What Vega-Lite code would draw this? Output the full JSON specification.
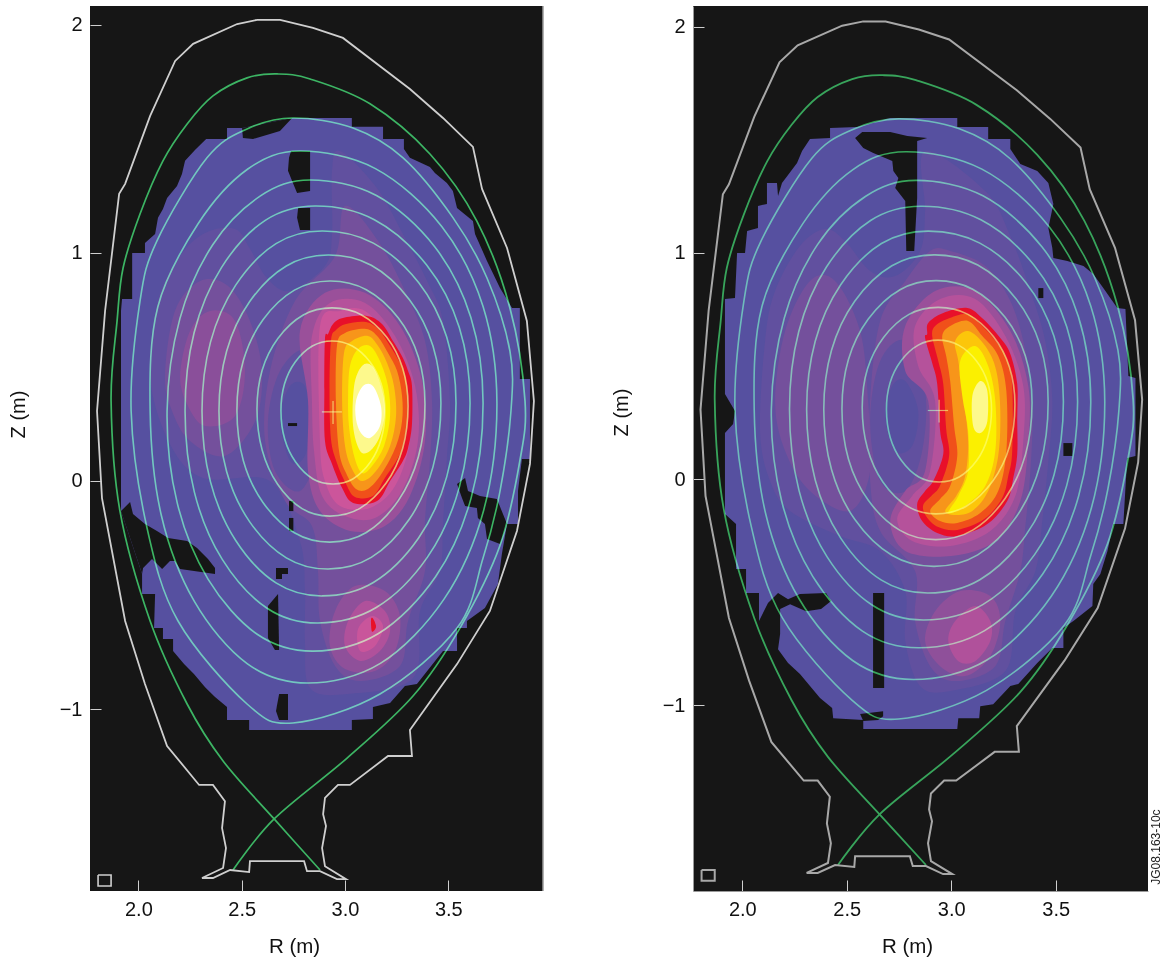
{"$schema":"https://vega.github.io/schema/vega-lite/v6.json","background":"white","padding":{"left":8,"top":5,"right":0,"bottom":0},"bounds":"flush","spacing":150,
"datasets":{
"edge":[{"R":3.958}],
"wall":[{"R":2.574,"Z":2.022},{"R":2.686,"Z":2.022},{"R":2.845,"Z":1.987},{"R":2.99,"Z":1.943},{"R":3.314,"Z":1.719},{"R":3.474,"Z":1.592},{"R":3.619,"Z":1.465},{"R":3.663,"Z":1.281},{"R":3.784,"Z":1.022},{"R":3.88,"Z":0.702},{"R":3.914,"Z":0.351},{"R":3.895,"Z":0.075},{"R":3.832,"Z":-0.219},{"R":3.701,"Z":-0.57},{"R":3.542,"Z":-0.803},{"R":3.314,"Z":-1.092},{"R":3.324,"Z":-1.206},{"R":3.208,"Z":-1.206},{"R":3.024,"Z":-1.333},{"R":2.966,"Z":-1.333},{"R":2.903,"Z":-1.39},{"R":2.894,"Z":-1.461},{"R":2.908,"Z":-1.513},{"R":2.889,"Z":-1.61},{"R":2.903,"Z":-1.689},{"R":3.005,"Z":-1.746},{"R":2.961,"Z":-1.746},{"R":2.879,"Z":-1.711},{"R":2.816,"Z":-1.711},{"R":2.802,"Z":-1.667},{"R":2.54,"Z":-1.667},{"R":2.536,"Z":-1.715},{"R":2.444,"Z":-1.706},{"R":2.361,"Z":-1.741},{"R":2.308,"Z":-1.741},{"R":2.41,"Z":-1.697},{"R":2.424,"Z":-1.61},{"R":2.405,"Z":-1.522},{"R":2.419,"Z":-1.404},{"R":2.361,"Z":-1.333},{"R":2.294,"Z":-1.333},{"R":2.139,"Z":-1.162},{"R":2.032,"Z":-0.89},{"R":1.936,"Z":-0.614},{"R":1.824,"Z":-0.075},{"R":1.8,"Z":0.307},{"R":1.839,"Z":0.746},{"R":1.907,"Z":1.259},{"R":1.936,"Z":1.303},{"R":2.057,"Z":1.601},{"R":2.178,"Z":1.842},{"R":2.265,"Z":1.917},{"R":2.478,"Z":2.004},{"R":2.574,"Z":2.022}],
"sep":[{"R":2.879,"Z":-1.706},{"R":2.657,"Z":-1.482},{"R":2.41,"Z":-1.228},{"R":2.236,"Z":-0.978},{"R":2.057,"Z":-0.614},{"R":1.911,"Z":-0.132},{"R":1.868,"Z":0.351},{"R":1.897,"Z":0.702},{"R":1.926,"Z":0.934},{"R":2.008,"Z":1.171},{"R":2.119,"Z":1.404},{"R":2.236,"Z":1.566},{"R":2.361,"Z":1.689},{"R":2.526,"Z":1.768},{"R":2.671,"Z":1.785},{"R":2.831,"Z":1.763},{"R":3.121,"Z":1.654},{"R":3.411,"Z":1.434},{"R":3.638,"Z":1.14},{"R":3.798,"Z":0.759},{"R":3.871,"Z":0.351},{"R":3.846,"Z":0.088},{"R":3.749,"Z":-0.285},{"R":3.556,"Z":-0.645},{"R":3.329,"Z":-0.943},{"R":3.01,"Z":-1.215},{"R":2.657,"Z":-1.482},{"R":2.458,"Z":-1.706}],
"flux":[
{"g":"c1","R":2.937,"Z":0.614},{"g":"c1","R":3.035,"Z":0.592},{"g":"c1","R":3.121,"Z":0.522},{"g":"c1","R":3.175,"Z":0.425},{"g":"c1","R":3.193,"Z":0.307},{"g":"c1","R":3.175,"Z":0.184},{"g":"c1","R":3.123,"Z":0.083},{"g":"c1","R":3.038,"Z":0.009},{"g":"c1","R":2.942,"Z":-0.013},{"g":"c1","R":2.845,"Z":0.009},{"g":"c1","R":2.761,"Z":0.083},{"g":"c1","R":2.708,"Z":0.184},{"g":"c1","R":2.69,"Z":0.307},{"g":"c1","R":2.707,"Z":0.425},{"g":"c1","R":2.759,"Z":0.522},{"g":"c1","R":2.842,"Z":0.592},
{"g":"c2","R":2.937,"Z":0.759},{"g":"c2","R":3.078,"Z":0.729},{"g":"c2","R":3.202,"Z":0.63},{"g":"c2","R":3.279,"Z":0.494},{"g":"c2","R":3.305,"Z":0.329},{"g":"c2","R":3.279,"Z":0.144},{"g":"c2","R":3.199,"Z":-0.009},{"g":"c2","R":3.072,"Z":-0.12},{"g":"c2","R":2.927,"Z":-0.154},{"g":"c2","R":2.792,"Z":-0.121},{"g":"c2","R":2.673,"Z":-0.013},{"g":"c2","R":2.599,"Z":0.136},{"g":"c2","R":2.574,"Z":0.316},{"g":"c2","R":2.599,"Z":0.486},{"g":"c2","R":2.676,"Z":0.626},{"g":"c2","R":2.798,"Z":0.728},
{"g":"c3","R":2.927,"Z":0.877},{"g":"c3","R":3.103,"Z":0.839},{"g":"c3","R":3.258,"Z":0.715},{"g":"c3","R":3.355,"Z":0.544},{"g":"c3","R":3.387,"Z":0.338},{"g":"c3","R":3.355,"Z":0.106},{"g":"c3","R":3.258,"Z":-0.086},{"g":"c3","R":3.103,"Z":-0.226},{"g":"c3","R":2.927,"Z":-0.268},{"g":"c3","R":2.755,"Z":-0.227},{"g":"c3","R":2.603,"Z":-0.094},{"g":"c3","R":2.508,"Z":0.089},{"g":"c3","R":2.477,"Z":0.311},{"g":"c3","R":2.508,"Z":0.528},{"g":"c3","R":2.603,"Z":0.707},{"g":"c3","R":2.755,"Z":0.837},
{"g":"c4","R":2.918,"Z":0.991},{"g":"c4","R":3.127,"Z":0.946},{"g":"c4","R":3.311,"Z":0.796},{"g":"c4","R":3.426,"Z":0.591},{"g":"c4","R":3.464,"Z":0.342},{"g":"c4","R":3.426,"Z":0.063},{"g":"c4","R":3.311,"Z":-0.168},{"g":"c4","R":3.127,"Z":-0.335},{"g":"c4","R":2.918,"Z":-0.386},{"g":"c4","R":2.716,"Z":-0.337},{"g":"c4","R":2.538,"Z":-0.178},{"g":"c4","R":2.427,"Z":0.042},{"g":"c4","R":2.39,"Z":0.307},{"g":"c4","R":2.427,"Z":0.569},{"g":"c4","R":2.538,"Z":0.786},{"g":"c4","R":2.716,"Z":0.943},
{"g":"c5","R":2.889,"Z":1.096},{"g":"c5","R":3.137,"Z":1.043},{"g":"c5","R":3.356,"Z":0.87},{"g":"c5","R":3.492,"Z":0.631},{"g":"c5","R":3.537,"Z":0.342},{"g":"c5","R":3.492,"Z":0.018},{"g":"c5","R":3.356,"Z":-0.25},{"g":"c5","R":3.137,"Z":-0.445},{"g":"c5","R":2.889,"Z":-0.504},{"g":"c5","R":2.666,"Z":-0.447},{"g":"c5","R":2.471,"Z":-0.261},{"g":"c5","R":2.349,"Z":-0.004},{"g":"c5","R":2.308,"Z":0.307},{"g":"c5","R":2.349,"Z":0.609},{"g":"c5","R":2.471,"Z":0.859},{"g":"c5","R":2.666,"Z":1.041},
{"g":"c6","R":2.855,"Z":1.206},{"g":"c6","R":3.142,"Z":1.146},{"g":"c6","R":3.395,"Z":0.947},{"g":"c6","R":3.553,"Z":0.673},{"g":"c6","R":3.605,"Z":0.342},{"g":"c6","R":3.553,"Z":-0.028},{"g":"c6","R":3.399,"Z":-0.334},{"g":"c6","R":3.151,"Z":-0.555},{"g":"c6","R":2.869,"Z":-0.623},{"g":"c6","R":2.623,"Z":-0.558},{"g":"c6","R":2.406,"Z":-0.344},{"g":"c6","R":2.271,"Z":-0.049},{"g":"c6","R":2.226,"Z":0.307},{"g":"c6","R":2.27,"Z":0.651},{"g":"c6","R":2.402,"Z":0.936},{"g":"c6","R":2.614,"Z":1.143},
{"g":"c7","R":2.831,"Z":1.32},{"g":"c7","R":3.152,"Z":1.252},{"g":"c7","R":3.434,"Z":1.027},{"g":"c7","R":3.609,"Z":0.717},{"g":"c7","R":3.668,"Z":0.342},{"g":"c7","R":3.61,"Z":-0.075},{"g":"c7","R":3.438,"Z":-0.42},{"g":"c7","R":3.16,"Z":-0.67},{"g":"c7","R":2.845,"Z":-0.746},{"g":"c7","R":2.575,"Z":-0.672},{"g":"c7","R":2.337,"Z":-0.43},{"g":"c7","R":2.188,"Z":-0.096},{"g":"c7","R":2.139,"Z":0.307},{"g":"c7","R":2.201,"Z":0.712},{"g":"c7","R":2.36,"Z":1.036},{"g":"c7","R":2.589,"Z":1.249},
{"g":"c8","R":2.782,"Z":1.447},{"g":"c8","R":3.147,"Z":1.37},{"g":"c8","R":3.468,"Z":1.116},{"g":"c8","R":3.668,"Z":0.765},{"g":"c8","R":3.735,"Z":0.342},{"g":"c8","R":3.671,"Z":-0.128},{"g":"c8","R":3.479,"Z":-0.518},{"g":"c8","R":3.171,"Z":-0.8},{"g":"c8","R":2.821,"Z":-0.886},{"g":"c8","R":2.528,"Z":-0.802},{"g":"c8","R":2.271,"Z":-0.528},{"g":"c8","R":2.111,"Z":-0.15},{"g":"c8","R":2.057,"Z":0.307},{"g":"c8","R":2.094,"Z":0.763},{"g":"c8","R":2.289,"Z":1.128},{"g":"c8","R":2.528,"Z":1.367},
{"g":"c9","R":2.748,"Z":1.592},{"g":"c9","R":3.039,"Z":1.548},{"g":"c9","R":3.281,"Z":1.417},{"g":"c9","R":3.523,"Z":1.154},{"g":"c9","R":3.687,"Z":0.89},{"g":"c9","R":3.798,"Z":0.57},{"g":"c9","R":3.803,"Z":0.307},{"g":"c9","R":3.75,"Z":-0.044},{"g":"c9","R":3.668,"Z":-0.338},{"g":"c9","R":3.542,"Z":-0.645},{"g":"c9","R":3.169,"Z":-0.934},{"g":"c9","R":2.748,"Z":-1.061},{"g":"c9","R":2.526,"Z":-0.978},{"g":"c9","R":2.192,"Z":-0.614},{"g":"c9","R":2.042,"Z":-0.206},{"g":"c9","R":1.965,"Z":0.307},{"g":"c9","R":2.008,"Z":0.789},{"g":"c9","R":2.09,"Z":1.053},{"g":"c9","R":2.332,"Z":1.417},{"g":"c9","R":2.526,"Z":1.544}],
"cross":[{"g":"h","R":2.888,"Z":0.303},{"g":"h","R":2.985,"Z":0.303},{"g":"v","R":2.942,"Z":0.351},{"g":"v","R":2.942,"Z":0.25}],
"square":[{"R":1.805,"Z":-1.728},{"R":1.868,"Z":-1.728},{"R":1.868,"Z":-1.776},{"R":1.805,"Z":-1.776},{"R":1.805,"Z":-1.728}],
"stamp":[{"R":3.982,"Z":-1.627,"t":"JG08.163-10c"}],
"baseL":[{"R":2.429,"Z":1.548},{"R":2.502,"Z":1.548},{"R":2.744,"Z":1.592},{"R":3.033,"Z":1.592},{"R":3.033,"Z":1.553},{"R":3.184,"Z":1.553},{"R":3.184,"Z":1.5},{"R":3.285,"Z":1.5},{"R":3.285,"Z":1.456},{"R":3.314,"Z":1.417},{"R":3.411,"Z":1.377},{"R":3.435,"Z":1.351},{"R":3.493,"Z":1.307},{"R":3.522,"Z":1.272},{"R":3.542,"Z":1.197},{"R":3.619,"Z":1.14},{"R":3.629,"Z":1.083},{"R":3.687,"Z":0.965},{"R":3.75,"Z":0.846},{"R":3.808,"Z":0.759},{"R":3.846,"Z":0.759},{"R":3.846,"Z":0.447},{"R":3.895,"Z":0.447},{"R":3.895,"Z":0.096},{"R":3.856,"Z":0.096},{"R":3.837,"Z":-0.044},{"R":3.837,"Z":-0.189},{"R":3.784,"Z":-0.189},{"R":3.759,"Z":-0.32},{"R":3.74,"Z":-0.452},{"R":3.677,"Z":-0.557},{"R":3.59,"Z":-0.614},{"R":3.59,"Z":-0.645},{"R":3.542,"Z":-0.645},{"R":3.542,"Z":-0.746},{"R":3.474,"Z":-0.746},{"R":3.348,"Z":-0.89},{"R":3.29,"Z":-0.899},{"R":3.218,"Z":-0.974},{"R":3.135,"Z":-0.991},{"R":3.135,"Z":-1.044},{"R":3.033,"Z":-1.048},{"R":3.033,"Z":-1.092},{"R":2.536,"Z":-1.092},{"R":2.536,"Z":-1.048},{"R":2.429,"Z":-1.048},{"R":2.429,"Z":-0.991},{"R":2.371,"Z":-0.947},{"R":2.323,"Z":-0.904},{"R":2.269,"Z":-0.846},{"R":2.221,"Z":-0.803},{"R":2.168,"Z":-0.746},{"R":2.168,"Z":-0.693},{"R":2.119,"Z":-0.693},{"R":2.119,"Z":-0.645},{"R":2.076,"Z":-0.645},{"R":2.081,"Z":-0.496},{"R":2.018,"Z":-0.496},{"R":2.018,"Z":-0.408},{"R":1.916,"Z":-0.132},{"R":1.916,"Z":0.746},{"R":1.921,"Z":0.798},{"R":1.97,"Z":0.798},{"R":1.97,"Z":1.0},{"R":2.032,"Z":1.0},{"R":2.032,"Z":1.044},{"R":2.081,"Z":1.083},{"R":2.095,"Z":1.154},{"R":2.119,"Z":1.193},{"R":2.139,"Z":1.241},{"R":2.187,"Z":1.294},{"R":2.211,"Z":1.346},{"R":2.226,"Z":1.404},{"R":2.274,"Z":1.452},{"R":2.328,"Z":1.5},{"R":2.429,"Z":1.5}],
"gapsL":[
{"g":"g1","R":2.502,"Z":1.548},{"g":"g1","R":2.506,"Z":1.504},{"g":"g1","R":2.555,"Z":1.5},{"g":"g1","R":2.637,"Z":1.522},{"g":"g1","R":2.685,"Z":1.535},{"g":"g1","R":2.744,"Z":1.592},
{"g":"g2","R":2.739,"Z":1.447},{"g":"g2","R":2.831,"Z":1.447},{"g":"g2","R":2.831,"Z":1.272},{"g":"g2","R":2.768,"Z":1.263},{"g":"g2","R":2.744,"Z":1.316},{"g":"g2","R":2.724,"Z":1.36},{"g":"g2","R":2.729,"Z":1.417},
{"g":"g3","R":2.773,"Z":1.197},{"g":"g3","R":2.831,"Z":1.197},{"g":"g3","R":2.831,"Z":1.101},{"g":"g3","R":2.782,"Z":1.101},{"g":"g3","R":2.768,"Z":1.154},
{"g":"g6","R":2.724,"Z":0.254},{"g":"g6","R":2.768,"Z":0.254},{"g":"g6","R":2.768,"Z":0.241},{"g":"g6","R":2.724,"Z":0.241},
{"g":"g7","R":1.916,"Z":-0.132},{"g":"g7","R":1.96,"Z":-0.092},{"g":"g7","R":1.974,"Z":-0.145},{"g":"g7","R":2.032,"Z":-0.189},{"g":"g7","R":2.09,"Z":-0.219},{"g":"g7","R":2.144,"Z":-0.25},{"g":"g7","R":2.236,"Z":-0.263},{"g":"g7","R":2.284,"Z":-0.294},{"g":"g7","R":2.337,"Z":-0.342},{"g":"g7","R":2.371,"Z":-0.382},{"g":"g7","R":2.371,"Z":-0.408},{"g":"g7","R":2.202,"Z":-0.386},{"g":"g7","R":2.177,"Z":-0.351},{"g":"g7","R":2.153,"Z":-0.351},{"g":"g7","R":2.115,"Z":-0.386},{"g":"g7","R":2.066,"Z":-0.342},{"g":"g7","R":2.023,"Z":-0.382},{"g":"g7","R":2.018,"Z":-0.408},
{"g":"g8a","R":2.729,"Z":-0.088},{"g":"g8a","R":2.75,"Z":-0.088},{"g":"g8a","R":2.75,"Z":-0.132},{"g":"g8a","R":2.729,"Z":-0.132},
{"g":"g8b","R":2.729,"Z":-0.162},{"g":"g8b","R":2.75,"Z":-0.162},{"g":"g8b","R":2.75,"Z":-0.219},{"g":"g8b","R":2.729,"Z":-0.219},
{"g":"g9","R":2.666,"Z":-0.382},{"g":"g9","R":2.724,"Z":-0.382},{"g":"g9","R":2.724,"Z":-0.408},{"g":"g9","R":2.695,"Z":-0.408},{"g":"g9","R":2.695,"Z":-0.43},{"g":"g9","R":2.666,"Z":-0.43},
{"g":"g10","R":2.676,"Z":-0.496},{"g":"g10","R":2.681,"Z":-0.741},{"g":"g10","R":2.661,"Z":-0.741},{"g":"g10","R":2.627,"Z":-0.689},{"g":"g10","R":2.627,"Z":-0.548},
{"g":"g11","R":2.681,"Z":-0.934},{"g":"g11","R":2.724,"Z":-0.934},{"g":"g11","R":2.724,"Z":-1.048},{"g":"g11","R":2.681,"Z":-1.048},{"g":"g11","R":2.666,"Z":-1.009},
{"g":"g12","R":3.542,"Z":-0.013},{"g":"g12","R":3.581,"Z":0.013},{"g":"g12","R":3.595,"Z":-0.044},{"g":"g12","R":3.653,"Z":-0.066},{"g":"g12","R":3.735,"Z":-0.079},{"g":"g12","R":3.784,"Z":-0.189},{"g":"g12","R":3.75,"Z":-0.276},{"g":"g12","R":3.687,"Z":-0.254},{"g":"g12","R":3.677,"Z":-0.189},{"g":"g12","R":3.643,"Z":-0.162},{"g":"g12","R":3.638,"Z":-0.118},{"g":"g12","R":3.581,"Z":-0.11},{"g":"g12","R":3.566,"Z":-0.075}],
"heatL":[
{"g":"A","R":2.976,"Z":1.447},{"g":"A","R":3.154,"Z":1.285},{"g":"A","R":3.28,"Z":1.083},{"g":"A","R":3.397,"Z":0.877},{"g":"A","R":3.474,"Z":0.702},{"g":"A","R":3.508,"Z":0.351},{"g":"A","R":3.493,"Z":0.101},{"g":"A","R":3.474,"Z":-0.189},{"g":"A","R":3.459,"Z":-0.395},{"g":"A","R":3.363,"Z":-0.57},{"g":"A","R":3.329,"Z":-0.864},{"g":"A","R":3.01,"Z":-0.934},{"g":"A","R":2.831,"Z":-0.908},{"g":"A","R":2.806,"Z":-0.702},{"g":"A","R":2.806,"Z":-0.482},{"g":"A","R":2.782,"Z":-0.263},{"g":"A","R":2.637,"Z":0},{"g":"A","R":2.313,"Z":0.013},{"g":"A","R":2.153,"Z":0.162},{"g":"A","R":2.057,"Z":0.452},{"g":"A","R":2.095,"Z":0.789},{"g":"A","R":2.202,"Z":0.987},{"g":"A","R":2.323,"Z":1.088},{"g":"A","R":2.468,"Z":1.105},{"g":"A","R":2.54,"Z":1.018},{"g":"A","R":2.622,"Z":0.89},{"g":"A","R":2.734,"Z":0.833},{"g":"A","R":2.903,"Z":0.943},{"g":"A","R":2.937,"Z":1.083},{"g":"A","R":2.937,"Z":1.36},
{"g":"B1","R":2.129,"Z":0.461},{"g":"B1","R":2.177,"Z":0.746},{"g":"B1","R":2.299,"Z":0.877},{"g":"B1","R":2.434,"Z":0.855},{"g":"B1","R":2.54,"Z":0.702},{"g":"B1","R":2.598,"Z":0.482},{"g":"B1","R":2.565,"Z":0.263},{"g":"B1","R":2.419,"Z":0.11},{"g":"B1","R":2.25,"Z":0.175},{"g":"B1","R":2.163,"Z":0.307},
{"g":"B2","R":3.0,"Z":1.206},{"g":"B2","R":3.16,"Z":1.053},{"g":"B2","R":3.29,"Z":0.833},{"g":"B2","R":3.387,"Z":0.614},{"g":"B2","R":3.421,"Z":0.351},{"g":"B2","R":3.411,"Z":0.088},{"g":"B2","R":3.387,"Z":-0.175},{"g":"B2","R":3.387,"Z":-0.395},{"g":"B2","R":3.305,"Z":-0.614},{"g":"B2","R":3.266,"Z":-0.811},{"g":"B2","R":3.073,"Z":-0.877},{"g":"B2","R":2.952,"Z":-0.811},{"g":"B2","R":2.879,"Z":-0.614},{"g":"B2","R":2.869,"Z":-0.395},{"g":"B2","R":2.84,"Z":-0.197},{"g":"B2","R":2.71,"Z":-0.088},{"g":"B2","R":2.613,"Z":0.175},{"g":"B2","R":2.637,"Z":0.482},{"g":"B2","R":2.758,"Z":0.789},{"g":"B2","R":2.952,"Z":0.987},
{"g":"C","R":2.202,"Z":0.461},{"g":"C","R":2.25,"Z":0.658},{"g":"C","R":2.347,"Z":0.746},{"g":"C","R":2.468,"Z":0.702},{"g":"C","R":2.516,"Z":0.482},{"g":"C","R":2.468,"Z":0.285},{"g":"C","R":2.323,"Z":0.241},{"g":"C","R":2.24,"Z":0.329},
{"g":"DS1","R":2.627,"Z":0.263},{"g":"DS1","R":2.685,"Z":0.482},{"g":"DS1","R":2.806,"Z":0.57},{"g":"DS1","R":2.869,"Z":0.351},{"g":"DS1","R":2.869,"Z":0.132},{"g":"DS1","R":2.782,"Z":-0.044},{"g":"DS1","R":2.661,"Z":0.044},
{"g":"DS2","R":2.685,"Z":0.272},{"g":"DS2","R":2.734,"Z":0.417},{"g":"DS2","R":2.806,"Z":0.417},{"g":"DS2","R":2.831,"Z":0.263},{"g":"DS2","R":2.806,"Z":0.11},{"g":"DS2","R":2.734,"Z":0.088},
{"g":"H2","R":2.782,"Z":0.658},{"g":"H2","R":2.903,"Z":0.825},{"g":"H2","R":3.097,"Z":0.825},{"g":"H2","R":3.266,"Z":0.68},{"g":"H2","R":3.373,"Z":0.439},{"g":"H2","R":3.387,"Z":0.175},{"g":"H2","R":3.314,"Z":-0.066},{"g":"H2","R":3.193,"Z":-0.197},{"g":"H2","R":3.024,"Z":-0.219},{"g":"H2","R":2.879,"Z":-0.132},{"g":"H2","R":2.821,"Z":0.044},{"g":"H2","R":2.821,"Z":0.351},
{"g":"H3","R":2.84,"Z":0.636},{"g":"H3","R":2.927,"Z":0.781},{"g":"H3","R":3.097,"Z":0.781},{"g":"H3","R":3.242,"Z":0.636},{"g":"H3","R":3.339,"Z":0.417},{"g":"H3","R":3.353,"Z":0.175},{"g":"H3","R":3.276,"Z":-0.044},{"g":"H3","R":3.145,"Z":-0.162},{"g":"H3","R":3.0,"Z":-0.154},{"g":"H3","R":2.889,"Z":-0.066},{"g":"H3","R":2.85,"Z":0.132},{"g":"H3","R":2.84,"Z":0.351},
{"g":"H4","R":2.879,"Z":0.68},{"g":"H4","R":2.976,"Z":0.746},{"g":"H4","R":3.097,"Z":0.746},{"g":"H4","R":3.218,"Z":0.614},{"g":"H4","R":3.305,"Z":0.395},{"g":"H4","R":3.314,"Z":0.175},{"g":"H4","R":3.242,"Z":-0.022},{"g":"H4","R":3.121,"Z":-0.118},{"g":"H4","R":2.976,"Z":-0.11},{"g":"H4","R":2.903,"Z":0},{"g":"H4","R":2.879,"Z":0.175},
{"g":"LB1","R":2.952,"Z":-0.57},{"g":"LB1","R":3.048,"Z":-0.461},{"g":"LB1","R":3.193,"Z":-0.482},{"g":"LB1","R":3.266,"Z":-0.592},{"g":"LB1","R":3.242,"Z":-0.746},{"g":"LB1","R":3.145,"Z":-0.833},{"g":"LB1","R":3.0,"Z":-0.825},{"g":"LB1","R":2.927,"Z":-0.724},
{"g":"LB2","R":3.015,"Z":-0.614},{"g":"LB2","R":3.097,"Z":-0.526},{"g":"LB2","R":3.193,"Z":-0.57},{"g":"LB2","R":3.218,"Z":-0.658},{"g":"LB2","R":3.169,"Z":-0.746},{"g":"LB2","R":3.073,"Z":-0.789},{"g":"LB2","R":3.0,"Z":-0.724},
{"g":"LB3","R":3.063,"Z":-0.649},{"g":"LB3","R":3.131,"Z":-0.592},{"g":"LB3","R":3.184,"Z":-0.636},{"g":"LB3","R":3.145,"Z":-0.724},{"g":"LB3","R":3.073,"Z":-0.746},
{"g":"Spot","R":3.126,"Z":-0.605},{"g":"Spot","R":3.137,"Z":-0.605},{"g":"Spot","R":3.15,"Z":-0.64},{"g":"Spot","R":3.13,"Z":-0.66},
{"g":"Red","R":2.903,"Z":0.623},{"g":"Red","R":2.918,"Z":0.645},{"g":"Red","R":2.942,"Z":0.689},{"g":"Red","R":2.99,"Z":0.715},{"g":"Red","R":3.106,"Z":0.724},{"g":"Red","R":3.179,"Z":0.689},{"g":"Red","R":3.232,"Z":0.614},{"g":"Red","R":3.28,"Z":0.539},{"g":"Red","R":3.305,"Z":0.482},{"g":"Red","R":3.324,"Z":0.417},{"g":"Red","R":3.324,"Z":0.25},{"g":"Red","R":3.305,"Z":0.145},{"g":"Red","R":3.28,"Z":0.088},{"g":"Red","R":3.218,"Z":0},{"g":"Red","R":3.155,"Z":-0.088},{"g":"Red","R":3.039,"Z":-0.096},{"g":"Red","R":2.986,"Z":-0.031},{"g":"Red","R":2.937,"Z":0.075},{"g":"Red","R":2.903,"Z":0.175},{"g":"Red","R":2.9,"Z":0.4},
{"g":"O1","R":2.932,"Z":0.614},{"g":"O1","R":2.956,"Z":0.662},{"g":"O1","R":3.005,"Z":0.689},{"g":"O1","R":3.102,"Z":0.697},{"g":"O1","R":3.165,"Z":0.662},{"g":"O1","R":3.218,"Z":0.592},{"g":"O1","R":3.266,"Z":0.518},{"g":"O1","R":3.29,"Z":0.461},{"g":"O1","R":3.3,"Z":0.395},{"g":"O1","R":3.3,"Z":0.263},{"g":"O1","R":3.28,"Z":0.162},{"g":"O1","R":3.256,"Z":0.101},{"g":"O1","R":3.193,"Z":0.013},{"g":"O1","R":3.135,"Z":-0.066},{"g":"O1","R":3.048,"Z":-0.07},{"g":"O1","R":3.005,"Z":-0.013},{"g":"O1","R":2.961,"Z":0.079},{"g":"O1","R":2.932,"Z":0.184},{"g":"O1","R":2.925,"Z":0.4},
{"g":"O2","R":2.961,"Z":0.592},{"g":"O2","R":3.0,"Z":0.649},{"g":"O2","R":3.102,"Z":0.667},{"g":"O2","R":3.16,"Z":0.632},{"g":"O2","R":3.208,"Z":0.561},{"g":"O2","R":3.252,"Z":0.482},{"g":"O2","R":3.276,"Z":0.373},{"g":"O2","R":3.276,"Z":0.263},{"g":"O2","R":3.247,"Z":0.154},{"g":"O2","R":3.179,"Z":0.035},{"g":"O2","R":3.111,"Z":-0.035},{"g":"O2","R":3.053,"Z":-0.035},{"g":"O2","R":3.005,"Z":0.035},{"g":"O2","R":2.971,"Z":0.132},{"g":"O2","R":2.956,"Z":0.351},
{"g":"O3","R":2.995,"Z":0.561},{"g":"O3","R":3.034,"Z":0.614},{"g":"O3","R":3.111,"Z":0.636},{"g":"O3","R":3.16,"Z":0.592},{"g":"O3","R":3.203,"Z":0.518},{"g":"O3","R":3.237,"Z":0.417},{"g":"O3","R":3.247,"Z":0.285},{"g":"O3","R":3.218,"Z":0.154},{"g":"O3","R":3.15,"Z":0.044},{"g":"O3","R":3.082,"Z":0},{"g":"O3","R":3.034,"Z":0.053},{"g":"O3","R":3.0,"Z":0.154},{"g":"O3","R":2.986,"Z":0.351},
{"g":"Y","R":3.024,"Z":0.504},{"g":"Y","R":3.063,"Z":0.579},{"g":"Y","R":3.121,"Z":0.592},{"g":"Y","R":3.169,"Z":0.526},{"g":"Y","R":3.208,"Z":0.417},{"g":"Y","R":3.218,"Z":0.285},{"g":"Y","R":3.189,"Z":0.154},{"g":"Y","R":3.131,"Z":0.066},{"g":"Y","R":3.082,"Z":0.035},{"g":"Y","R":3.044,"Z":0.11},{"g":"Y","R":3.019,"Z":0.241},{"g":"Y","R":3.015,"Z":0.373},
{"g":"P","R":3.044,"Z":0.417},{"g":"P","R":3.082,"Z":0.504},{"g":"P","R":3.131,"Z":0.504},{"g":"P","R":3.174,"Z":0.417},{"g":"P","R":3.193,"Z":0.307},{"g":"P","R":3.169,"Z":0.197},{"g":"P","R":3.121,"Z":0.132},{"g":"P","R":3.073,"Z":0.132},{"g":"P","R":3.039,"Z":0.241},
{"g":"W","R":3.053,"Z":0.351},{"g":"W","R":3.087,"Z":0.417},{"g":"W","R":3.135,"Z":0.417},{"g":"W","R":3.174,"Z":0.329},{"g":"W","R":3.169,"Z":0.241},{"g":"W","R":3.121,"Z":0.189},{"g":"W","R":3.077,"Z":0.211},{"g":"W","R":3.053,"Z":0.272}],
"baseR":[{"R":2.42,"Z":1.552},{"R":2.55,"Z":1.556},{"R":2.708,"Z":1.596},{"R":3.029,"Z":1.596},{"R":3.029,"Z":1.556},{"R":3.177,"Z":1.556},{"R":3.177,"Z":1.503},{"R":3.283,"Z":1.503},{"R":3.283,"Z":1.459},{"R":3.331,"Z":1.393},{"R":3.412,"Z":1.362},{"R":3.465,"Z":1.309},{"R":3.489,"Z":1.216},{"R":3.465,"Z":1.11},{"R":3.484,"Z":1.021},{"R":3.489,"Z":0.977},{"R":3.556,"Z":0.964},{"R":3.633,"Z":0.942},{"R":3.68,"Z":0.906},{"R":3.728,"Z":0.844},{"R":3.795,"Z":0.756},{"R":3.834,"Z":0.752},{"R":3.848,"Z":0.455},{"R":3.882,"Z":0.447},{"R":3.882,"Z":0.102},{"R":3.843,"Z":0.093},{"R":3.834,"Z":-0.04},{"R":3.824,"Z":-0.199},{"R":3.776,"Z":-0.199},{"R":3.748,"Z":-0.318},{"R":3.714,"Z":-0.42},{"R":3.68,"Z":-0.464},{"R":3.676,"Z":-0.561},{"R":3.585,"Z":-0.628},{"R":3.537,"Z":-0.659},{"R":3.537,"Z":-0.747},{"R":3.484,"Z":-0.747},{"R":3.412,"Z":-0.813},{"R":3.321,"Z":-0.906},{"R":3.283,"Z":-0.915},{"R":3.201,"Z":-0.995},{"R":3.139,"Z":-1.004},{"R":3.134,"Z":-1.057},{"R":3.034,"Z":-1.057},{"R":3.029,"Z":-1.105},{"R":2.579,"Z":-1.105},{"R":2.579,"Z":-1.065},{"R":2.435,"Z":-1.057},{"R":2.43,"Z":-1.012},{"R":2.372,"Z":-0.968},{"R":2.324,"Z":-0.915},{"R":2.276,"Z":-0.862},{"R":2.219,"Z":-0.813},{"R":2.171,"Z":-0.752},{"R":2.181,"Z":-0.685},{"R":2.181,"Z":-0.575},{"R":2.229,"Z":-0.553},{"R":2.305,"Z":-0.584},{"R":2.377,"Z":-0.575},{"R":2.425,"Z":-0.539},{"R":2.401,"Z":-0.504},{"R":2.276,"Z":-0.508},{"R":2.219,"Z":-0.531},{"R":2.171,"Z":-0.504},{"R":2.123,"Z":-0.548},{"R":2.08,"Z":-0.628},{"R":2.08,"Z":-0.504},{"R":2.018,"Z":-0.504},{"R":2.018,"Z":-0.398},{"R":1.97,"Z":-0.398},{"R":1.97,"Z":-0.199},{"R":1.917,"Z":-0.155},{"R":1.917,"Z":0.203},{"R":1.956,"Z":0.243},{"R":1.965,"Z":0.301},{"R":1.917,"Z":0.376},{"R":1.917,"Z":0.796},{"R":1.965,"Z":0.8},{"R":1.975,"Z":0.999},{"R":2.013,"Z":0.999},{"R":2.023,"Z":1.096},{"R":2.075,"Z":1.11},{"R":2.075,"Z":1.207},{"R":2.118,"Z":1.216},{"R":2.118,"Z":1.309},{"R":2.166,"Z":1.309},{"R":2.171,"Z":1.251},{"R":2.19,"Z":1.309},{"R":2.262,"Z":1.397},{"R":2.286,"Z":1.45},{"R":2.324,"Z":1.503},{"R":2.42,"Z":1.508}],
"gapsR":[
{"g":"G1","R":2.54,"Z":1.508},{"g":"G1","R":2.574,"Z":1.534},{"g":"G1","R":2.708,"Z":1.534},{"g":"G1","R":2.79,"Z":1.516},{"g":"G1","R":2.885,"Z":1.508},{"g":"G1","R":2.837,"Z":1.494},{"g":"G1","R":2.837,"Z":1.242},{"g":"G1","R":2.823,"Z":1.008},{"g":"G1","R":2.785,"Z":1.008},{"g":"G1","R":2.78,"Z":1.229},{"g":"G1","R":2.732,"Z":1.287},{"g":"G1","R":2.747,"Z":1.331},{"g":"G1","R":2.723,"Z":1.362},{"g":"G1","R":2.718,"Z":1.406},{"g":"G1","R":2.627,"Z":1.441},{"g":"G1","R":2.579,"Z":1.463},
{"g":"G2","R":3.537,"Z":0.159},{"g":"G2","R":3.58,"Z":0.159},{"g":"G2","R":3.58,"Z":0.102},{"g":"G2","R":3.537,"Z":0.102},
{"g":"G3","R":3.417,"Z":0.844},{"g":"G3","R":3.441,"Z":0.844},{"g":"G3","R":3.441,"Z":0.8},{"g":"G3","R":3.417,"Z":0.8},
{"g":"G4","R":2.626,"Z":-0.504},{"g":"G4","R":2.679,"Z":-0.504},{"g":"G4","R":2.679,"Z":-0.924},{"g":"G4","R":2.626,"Z":-0.924},
{"g":"G5","R":2.564,"Z":-1.039},{"g":"G5","R":2.674,"Z":-1.026},{"g":"G5","R":2.674,"Z":-1.048},{"g":"G5","R":2.65,"Z":-1.065},{"g":"G5","R":2.579,"Z":-1.07}],
"heatR":[
{"g":"A","R":2.875,"Z":1.45},{"g":"A","R":3.163,"Z":1.273},{"g":"A","R":3.283,"Z":1.074},{"g":"A","R":3.379,"Z":0.831},{"g":"A","R":3.45,"Z":0.61},{"g":"A","R":3.484,"Z":0.345},{"g":"A","R":3.465,"Z":0.08},{"g":"A","R":3.436,"Z":-0.186},{"g":"A","R":3.403,"Z":-0.407},{"g":"A","R":3.307,"Z":-0.584},{"g":"A","R":3.259,"Z":-0.849},{"g":"A","R":2.995,"Z":-0.937},{"g":"A","R":2.851,"Z":-0.915},{"g":"A","R":2.78,"Z":-0.716},{"g":"A","R":2.78,"Z":-0.495},{"g":"A","R":2.66,"Z":-0.318},{"g":"A","R":2.468,"Z":-0.252},{"g":"A","R":2.228,"Z":-0.141},{"g":"A","R":2.133,"Z":-0.009},{"g":"A","R":2.085,"Z":0.212},{"g":"A","R":2.109,"Z":0.61},{"g":"A","R":2.157,"Z":0.831},{"g":"A","R":2.276,"Z":1.03},{"g":"A","R":2.396,"Z":1.105},{"g":"A","R":2.492,"Z":1.052},{"g":"A","R":2.612,"Z":0.92},{"g":"A","R":2.732,"Z":0.897},{"g":"A","R":2.851,"Z":1.008},{"g":"A","R":2.875,"Z":1.185},
{"g":"B1","R":2.157,"Z":0.345},{"g":"B1","R":2.205,"Z":0.654},{"g":"B1","R":2.324,"Z":0.875},{"g":"B1","R":2.444,"Z":0.875},{"g":"B1","R":2.564,"Z":0.654},{"g":"B1","R":2.602,"Z":0.345},{"g":"B1","R":2.612,"Z":0.035},{"g":"B1","R":2.516,"Z":-0.141},{"g":"B1","R":2.324,"Z":-0.053},{"g":"B1","R":2.205,"Z":0.124},
{"g":"B2","R":2.995,"Z":1.008},{"g":"B2","R":3.163,"Z":0.942},{"g":"B2","R":3.283,"Z":0.787},{"g":"B2","R":3.355,"Z":0.566},{"g":"B2","R":3.388,"Z":0.301},{"g":"B2","R":3.379,"Z":0.035},{"g":"B2","R":3.355,"Z":-0.208},{"g":"B2","R":3.331,"Z":-0.407},{"g":"B2","R":3.259,"Z":-0.628},{"g":"B2","R":3.211,"Z":-0.827},{"g":"B2","R":3.019,"Z":-0.893},{"g":"B2","R":2.899,"Z":-0.827},{"g":"B2","R":2.827,"Z":-0.628},{"g":"B2","R":2.827,"Z":-0.407},{"g":"B2","R":2.66,"Z":-0.23},{"g":"B2","R":2.612,"Z":-0.009},{"g":"B2","R":2.612,"Z":0.345},{"g":"B2","R":2.66,"Z":0.699},{"g":"B2","R":2.78,"Z":0.875},{"g":"B2","R":2.899,"Z":1.008},
{"g":"DS1","R":2.612,"Z":0.256},{"g":"DS1","R":2.66,"Z":0.522},{"g":"DS1","R":2.78,"Z":0.61},{"g":"DS1","R":2.875,"Z":0.389},{"g":"DS1","R":2.861,"Z":0.124},{"g":"DS1","R":2.78,"Z":-0.053},{"g":"DS1","R":2.66,"Z":-0.009},
{"g":"DS2","R":2.684,"Z":0.279},{"g":"DS2","R":2.717,"Z":0.411},{"g":"DS2","R":2.78,"Z":0.433},{"g":"DS2","R":2.842,"Z":0.301},{"g":"DS2","R":2.813,"Z":0.146},{"g":"DS2","R":2.732,"Z":0.124},
{"g":"H2","R":2.78,"Z":0.676},{"g":"H2","R":2.923,"Z":0.831},{"g":"H2","R":3.115,"Z":0.831},{"g":"H2","R":3.283,"Z":0.654},{"g":"H2","R":3.369,"Z":0.411},{"g":"H2","R":3.369,"Z":0.168},{"g":"H2","R":3.331,"Z":-0.097},{"g":"H2","R":3.211,"Z":-0.274},{"g":"H2","R":3.0,"Z":-0.34},{"g":"H2","R":2.78,"Z":-0.318},{"g":"H2","R":2.708,"Z":-0.186},{"g":"H2","R":2.78,"Z":-0.053},{"g":"H2","R":2.875,"Z":0.035},{"g":"H2","R":2.89,"Z":0.345},{"g":"H2","R":2.78,"Z":0.478},
{"g":"H3","R":2.827,"Z":0.676},{"g":"H3","R":2.947,"Z":0.796},{"g":"H3","R":3.115,"Z":0.796},{"g":"H3","R":3.259,"Z":0.632},{"g":"H3","R":3.345,"Z":0.411},{"g":"H3","R":3.345,"Z":0.168},{"g":"H3","R":3.307,"Z":-0.075},{"g":"H3","R":3.187,"Z":-0.23},{"g":"H3","R":2.995,"Z":-0.296},{"g":"H3","R":2.813,"Z":-0.274},{"g":"H3","R":2.741,"Z":-0.177},{"g":"H3","R":2.813,"Z":-0.075},{"g":"H3","R":2.899,"Z":0.035},{"g":"H3","R":2.923,"Z":0.345},{"g":"H3","R":2.842,"Z":0.5},
{"g":"LB1","R":2.923,"Z":-0.584},{"g":"LB1","R":3.043,"Z":-0.495},{"g":"LB1","R":3.187,"Z":-0.517},{"g":"LB1","R":3.235,"Z":-0.628},{"g":"LB1","R":3.187,"Z":-0.783},{"g":"LB1","R":3.067,"Z":-0.871},{"g":"LB1","R":2.947,"Z":-0.827},{"g":"LB1","R":2.875,"Z":-0.716},
{"g":"LB2","R":3.019,"Z":-0.628},{"g":"LB2","R":3.115,"Z":-0.561},{"g":"LB2","R":3.187,"Z":-0.628},{"g":"LB2","R":3.187,"Z":-0.716},{"g":"LB2","R":3.115,"Z":-0.805},{"g":"LB2","R":3.034,"Z":-0.805},{"g":"LB2","R":2.986,"Z":-0.716},
{"g":"Red","R":2.885,"Z":0.641},{"g":"Red","R":2.89,"Z":0.69},{"g":"Red","R":2.962,"Z":0.734},{"g":"Red","R":3.077,"Z":0.756},{"g":"Red","R":3.153,"Z":0.707},{"g":"Red","R":3.235,"Z":0.623},{"g":"Red","R":3.283,"Z":0.553},{"g":"Red","R":3.316,"Z":0.42},{"g":"Red","R":3.316,"Z":0.27},{"g":"Red","R":3.316,"Z":0.111},{"g":"Red","R":3.297,"Z":0.004},{"g":"Red","R":3.268,"Z":-0.097},{"g":"Red","R":3.173,"Z":-0.199},{"g":"Red","R":3.029,"Z":-0.252},{"g":"Red","R":2.933,"Z":-0.239},{"g":"Red","R":2.861,"Z":-0.186},{"g":"Red","R":2.837,"Z":-0.111},{"g":"Red","R":2.875,"Z":-0.053},{"g":"Red","R":2.914,"Z":-0.009},{"g":"Red","R":2.962,"Z":0.111},{"g":"Red","R":2.947,"Z":0.212},{"g":"Red","R":2.933,"Z":0.42},{"g":"Red","R":2.909,"Z":0.513},{"g":"Red","R":2.875,"Z":0.623},
{"g":"O1","R":2.909,"Z":0.632},{"g":"O1","R":2.923,"Z":0.676},{"g":"O1","R":2.981,"Z":0.707},{"g":"O1","R":3.077,"Z":0.73},{"g":"O1","R":3.139,"Z":0.685},{"g":"O1","R":3.216,"Z":0.606},{"g":"O1","R":3.264,"Z":0.535},{"g":"O1","R":3.292,"Z":0.411},{"g":"O1","R":3.292,"Z":0.124},{"g":"O1","R":3.273,"Z":0.013},{"g":"O1","R":3.244,"Z":-0.084},{"g":"O1","R":3.158,"Z":-0.177},{"g":"O1","R":3.029,"Z":-0.225},{"g":"O1","R":2.938,"Z":-0.212},{"g":"O1","R":2.88,"Z":-0.164},{"g":"O1","R":2.866,"Z":-0.115},{"g":"O1","R":2.909,"Z":-0.071},{"g":"O1","R":2.947,"Z":-0.027},{"g":"O1","R":2.99,"Z":0.102},{"g":"O1","R":2.976,"Z":0.221},{"g":"O1","R":2.962,"Z":0.42},{"g":"O1","R":2.938,"Z":0.522},
{"g":"O2","R":2.957,"Z":0.632},{"g":"O2","R":2.995,"Z":0.676},{"g":"O2","R":3.081,"Z":0.699},{"g":"O2","R":3.149,"Z":0.632},{"g":"O2","R":3.225,"Z":0.544},{"g":"O2","R":3.264,"Z":0.389},{"g":"O2","R":3.264,"Z":0.124},{"g":"O2","R":3.225,"Z":-0.053},{"g":"O2","R":3.139,"Z":-0.15},{"g":"O2","R":3.029,"Z":-0.194},{"g":"O2","R":2.947,"Z":-0.186},{"g":"O2","R":2.899,"Z":-0.141},{"g":"O2","R":2.947,"Z":-0.088},{"g":"O2","R":2.995,"Z":-0.031},{"g":"O2","R":3.029,"Z":0.102},{"g":"O2","R":3.014,"Z":0.234},{"g":"O2","R":2.995,"Z":0.433},{"g":"O2","R":2.976,"Z":0.544},
{"g":"O3","R":3.019,"Z":0.61},{"g":"O3","R":3.081,"Z":0.654},{"g":"O3","R":3.163,"Z":0.588},{"g":"O3","R":3.216,"Z":0.478},{"g":"O3","R":3.235,"Z":0.301},{"g":"O3","R":3.225,"Z":0.102},{"g":"O3","R":3.177,"Z":-0.053},{"g":"O3","R":3.101,"Z":-0.141},{"g":"O3","R":3.019,"Z":-0.159},{"g":"O3","R":2.971,"Z":-0.141},{"g":"O3","R":3.024,"Z":-0.075},{"g":"O3","R":3.067,"Z":0.013},{"g":"O3","R":3.081,"Z":0.168},{"g":"O3","R":3.058,"Z":0.367},{"g":"O3","R":3.034,"Z":0.522},
{"g":"Y","R":3.043,"Z":0.522},{"g":"Y","R":3.115,"Z":0.588},{"g":"Y","R":3.177,"Z":0.5},{"g":"Y","R":3.211,"Z":0.345},{"g":"Y","R":3.211,"Z":0.124},{"g":"Y","R":3.163,"Z":-0.031},{"g":"Y","R":3.067,"Z":-0.119},{"g":"Y","R":2.986,"Z":-0.15},{"g":"Y","R":3.034,"Z":-0.075},{"g":"Y","R":3.081,"Z":0.035},{"g":"Y","R":3.081,"Z":0.212},{"g":"Y","R":3.053,"Z":0.367},
{"g":"P","R":3.101,"Z":0.367},{"g":"P","R":3.139,"Z":0.433},{"g":"P","R":3.173,"Z":0.389},{"g":"P","R":3.173,"Z":0.256},{"g":"P","R":3.139,"Z":0.203},{"g":"P","R":3.105,"Z":0.234}]
},
"hconcat":[
{"width":453,"height":885,"view":{"fill":"#161616","stroke":null},
"encoding":{"x":{"field":"R","type":"quantitative","scale":{"domain":[1.766,3.958],"nice":false,"zero":false},"axis":{"title":"R (m)","titleX":204,"values":[2,2.5,3,3.5],"format":".1f","grid":false,"domain":false,"tickSize":-11,"tickColor":"#cfcfcf","labelPadding":19,"labelFontSize":20,"titleFontSize":20.5,"labelFont":"Liberation Sans","titleFont":"Liberation Sans","titleFontWeight":"normal","titlePadding":17,"labelColor":"#111","titleColor":"#111"}},"y":{"field":"Z","type":"quantitative","scale":{"domain":[-1.798,2.083],"nice":false,"zero":false},"axis":{"title":"Z (m)","titleY":408,"values":[-1,0,1,2],"format":"d","grid":false,"domain":false,"tickSize":-11,"tickColor":"#cfcfcf","labelPadding":19,"labelFontSize":20,"titleFontSize":20,"labelFont":"Liberation Sans","titleFont":"Liberation Sans","titleFontWeight":"normal","titlePadding":31,"labelColor":"#111","titleColor":"#111"}},"order":{"value":null}},
"layer":[
{"data":{"name":"baseL"},"mark":{"type":"line","filled":true,"color":"#5650a0"}},
{"data":{"name":"heatL"},"mark":{"type":"line","filled":true,"interpolate":"cardinal-closed"},"encoding":{"color":{"field":"g","type":"nominal","legend":null,"scale":{"domain":["A","B1","B2","C","DS1","DS2","H2","H3","H4","LB1","LB2","LB3","Spot","Red","O1","O2","O3","Y","P","W"],"range":["#61509f","#74509c","#74509c","#8a4f9a","#61509f","#5650a0","#9a509a","#b5529b","#cc559b","#8f509a","#b0519b","#c9559b","#e8102a","#e8102a","#f0501a","#f7951a","#fcc60a","#fbf000","#fdf98c","#ffffff"]}}}},
{"data":{"name":"gapsL"},"mark":{"type":"line","filled":true,"color":"#161616"},"encoding":{"detail":{"field":"g"}}},
{"data":{"name":"flux"},"mark":{"type":"line","interpolate":"cardinal-closed","color":"#2aae55","strokeWidth":1.6,"blend":"screen"},"encoding":{"detail":{"field":"g"}}},
{"data":{"name":"sep"},"mark":{"type":"line","interpolate":"cardinal","color":"#2aae55","strokeWidth":1.7,"blend":"screen"}},
{"data":{"name":"cross"},"mark":{"type":"line","color":"#2aae55","strokeWidth":1.2,"blend":"screen"},"encoding":{"detail":{"field":"g"}}},
{"data":{"name":"wall"},"mark":{"type":"line","color":"#cfcfcf","strokeWidth":1.8}},
{"data":{"name":"square"},"mark":{"type":"line","color":"#cfcfcf","strokeWidth":1.6}},
{"data":{"name":"edge"},"mark":{"type":"rule","color":"#9a9a9a","strokeWidth":1.5},"encoding":{"y":{"value":0},"y2":{"value":885}}}
]},
{"width":455,"height":885,"view":{"fill":"#161616","stroke":null},
"encoding":{"x":{"field":"R","type":"quantitative","scale":{"domain":[1.764,3.942],"nice":false,"zero":false},"axis":{"title":"R (m)","titleX":214,"values":[2,2.5,3,3.5],"format":".1f","grid":false,"domain":true,"domainColor":"#9a9a9a","tickSize":-11,"tickColor":"#cfcfcf","labelPadding":19,"labelFontSize":20,"titleFontSize":20.5,"labelFont":"Liberation Sans","titleFont":"Liberation Sans","titleFontWeight":"normal","titlePadding":17,"labelColor":"#111","titleColor":"#111"}},"y":{"field":"Z","type":"quantitative","scale":{"domain":[-1.821,2.091],"nice":false,"zero":false},"axis":{"title":"Z (m)","titleY":406,"values":[-1,0,1,2],"format":"d","grid":false,"domain":true,"domainColor":"#9a9a9a","tickSize":-11,"tickColor":"#cfcfcf","labelPadding":19,"labelFontSize":20,"titleFontSize":20,"labelFont":"Liberation Sans","titleFont":"Liberation Sans","titleFontWeight":"normal","titlePadding":31,"labelColor":"#111","titleColor":"#111"}},"order":{"value":null}},
"layer":[
{"data":{"name":"baseR"},"mark":{"type":"line","filled":true,"color":"#5650a0"}},
{"data":{"name":"heatR"},"mark":{"type":"line","filled":true,"interpolate":"cardinal-closed"},"encoding":{"color":{"field":"g","type":"nominal","legend":null,"scale":{"domain":["A","B1","B2","DS1","DS2","H2","H3","LB1","LB2","Red","O1","O2","O3","Y","P"],"range":["#61509f","#74509c","#74509c","#61509f","#5650a0","#9a509a","#b5529b","#8f509a","#b0519b","#e8102a","#f0501a","#f7951a","#fcc60a","#fbf000","#f6f37a"]}}}},
{"data":{"name":"gapsR"},"mark":{"type":"line","filled":true,"color":"#161616"},"encoding":{"detail":{"field":"g"}}},
{"data":{"name":"flux"},"mark":{"type":"line","interpolate":"cardinal-closed","color":"#259c4c","strokeWidth":1.6,"blend":"screen"},"encoding":{"detail":{"field":"g"}}},
{"data":{"name":"sep"},"mark":{"type":"line","interpolate":"cardinal","color":"#259c4c","strokeWidth":1.8,"blend":"screen"}},
{"data":{"name":"cross"},"mark":{"type":"line","color":"#259c4c","strokeWidth":1.2,"blend":"screen"},"encoding":{"detail":{"field":"g"}}},
{"data":{"name":"wall"},"mark":{"type":"line","color":"#a8a8a8","strokeWidth":2}},
{"data":{"name":"square"},"mark":{"type":"line","color":"#a8a8a8","strokeWidth":2}},
{"data":{"name":"stamp"},"mark":{"type":"text","angle":270,"font":"Liberation Sans","fontSize":12,"color":"#222"},"encoding":{"text":{"field":"t"}}}
]}
]}
